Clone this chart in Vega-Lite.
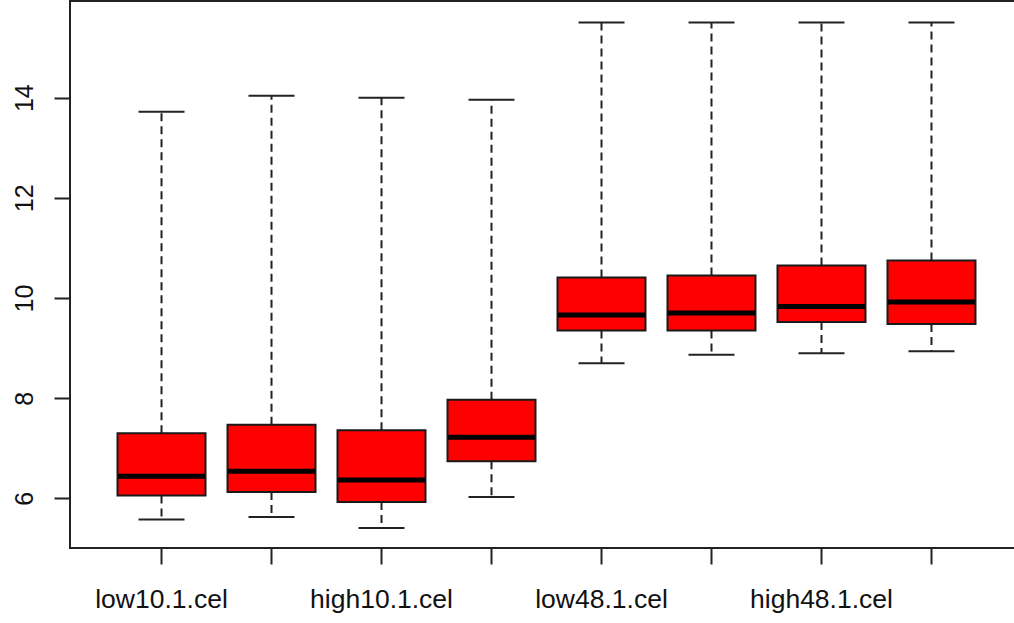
{
  "$schema": "https://vega.github.io/schema/vega-lite/v6.json",
  "autosize": "none",
  "width": 953,
  "height": 547,
  "padding": {"left": 70, "top": 1, "right": -9, "bottom": 75},
  "background": "white",
  "config": {
    "view": {"stroke": "#222222", "strokeWidth": 2},
    "font": "Liberation Sans",
    "axis": {
      "grid": false,
      "domain": false,
      "tickColor": "#222222",
      "tickWidth": 2,
      "tickSize": 16,
      "labelColor": "#111111",
      "labelFont": "Liberation Sans",
      "title": null
    }
  },
  "data": {
    "values": [
      {"sample": "low10.1.cel", "lower": 5.58, "q1": 6.06, "median": 6.44, "q3": 7.30, "upper": 13.72},
      {"sample": "low10.2.cel", "lower": 5.63, "q1": 6.13, "median": 6.54, "q3": 7.47, "upper": 14.04},
      {"sample": "high10.1.cel", "lower": 5.41, "q1": 5.93, "median": 6.37, "q3": 7.36, "upper": 14.00},
      {"sample": "high10.2.cel", "lower": 6.03, "q1": 6.74, "median": 7.22, "q3": 7.97, "upper": 13.96},
      {"sample": "low48.1.cel", "lower": 8.70, "q1": 9.35, "median": 9.66, "q3": 10.41, "upper": 15.50},
      {"sample": "low48.2.cel", "lower": 8.87, "q1": 9.35, "median": 9.70, "q3": 10.45, "upper": 15.50},
      {"sample": "high48.1.cel", "lower": 8.90, "q1": 9.52, "median": 9.83, "q3": 10.65, "upper": 15.50},
      {"sample": "high48.2.cel", "lower": 8.94, "q1": 9.48, "median": 9.92, "q3": 10.75, "upper": 15.50}
    ]
  },
  "encoding": {
    "x": {
      "field": "sample",
      "type": "nominal",
      "sort": null,
      "scale": {"paddingInner": 0, "paddingOuter": 0.332},
      "axis": {
        "labelAngle": 0,
        "labelFontSize": 26.5,
        "labelBaseline": "alphabetic",
        "labelAlign": "center",
        "labelPadding": 43.7,
        "labelOverlap": false,
        "labelExpr": "indexof(datum.label, '.2.') >= 0 ? '' : datum.label"
      }
    }
  },
  "layer": [
    {
      "mark": {"type": "rule", "strokeDash": [8, 5], "strokeWidth": 2, "color": "#222222"},
      "encoding": {
        "y": {
          "field": "q1",
          "type": "quantitative",
          "scale": {"domain": [5.01, 15.93], "nice": false, "zero": false},
          "axis": {
            "values": [6, 8, 10, 12, 14],
            "labelAngle": 270,
            "labelAlign": "center",
            "labelBaseline": "alphabetic",
            "labelFontSize": 25,
            "labelPadding": 21.7
          }
        },
        "y2": {"field": "lower"}
      }
    },
    {
      "mark": {"type": "rule", "strokeDash": [8, 5], "strokeWidth": 2, "color": "#222222"},
      "encoding": {
        "y": {"field": "q3", "type": "quantitative"},
        "y2": {"field": "upper"}
      }
    },
    {
      "mark": {"type": "tick", "size": 46, "thickness": 2, "color": "#222222", "opacity": 1},
      "encoding": {"y": {"field": "lower", "type": "quantitative"}}
    },
    {
      "mark": {"type": "tick", "size": 46, "thickness": 2, "color": "#222222", "opacity": 1},
      "encoding": {"y": {"field": "upper", "type": "quantitative"}}
    },
    {
      "mark": {"type": "bar", "width": {"band": 0.8}, "fill": "#FF0000", "stroke": "#1a1a1a", "strokeWidth": 2},
      "encoding": {
        "y": {"field": "q1", "type": "quantitative"},
        "y2": {"field": "q3"}
      }
    },
    {
      "mark": {"type": "tick", "size": 87, "thickness": 5, "color": "#000000", "opacity": 1},
      "encoding": {"y": {"field": "median", "type": "quantitative"}}
    }
  ]
}
